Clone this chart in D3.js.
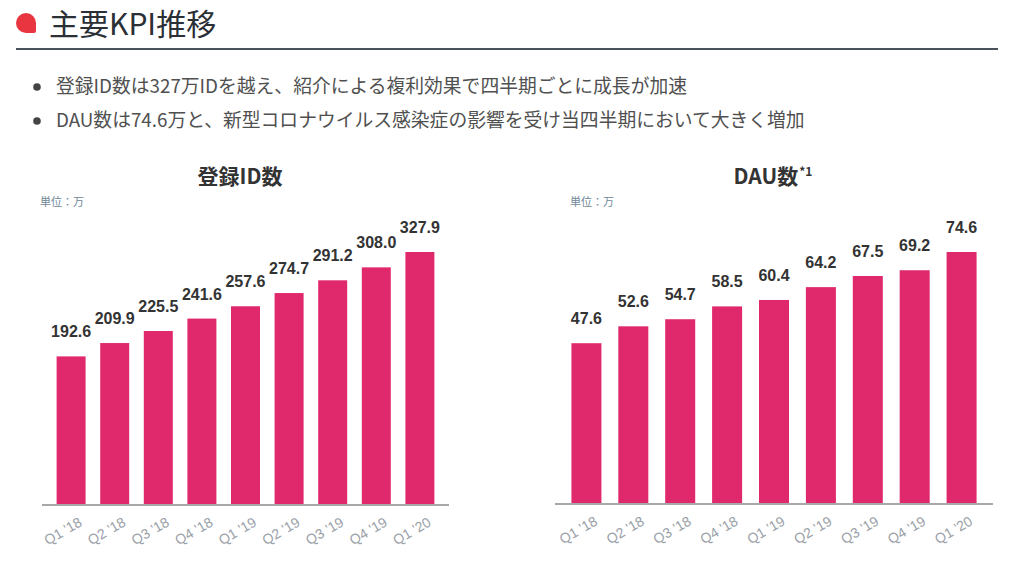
<!DOCTYPE html>
<html><head><meta charset="utf-8">
<script src="https://cdn.jsdelivr.net/npm/d3@7"></script>
<style>
html,body{margin:0;padding:0;background:#fff;}
svg{display:block;}
</style>
</head><body>
<svg id="c" width="1024" height="576"></svg>
<script>
const quarters = ["Q1 '18","Q2 '18","Q3 '18","Q4 '18","Q1 '19","Q2 '19","Q3 '19","Q4 '19","Q1 '20"];
const registeredIds = [192.6,209.9,225.5,241.6,257.6,274.7,291.2,308.0,327.9];
const dau = [47.6,52.6,54.7,58.5,60.4,64.2,67.5,69.2,74.6];
const pageTitle = "主要KPI推移";
const bullets = [
  "登録ID数は327万IDを越え、紹介による複利効果で四半期ごとに成長が加速",
  "DAU数は74.6万と、新型コロナウイルス感染症の影響を受け当四半期において大きく増加"
];
const unitLabel = "単位：万";

const svg = d3.select("#c");
const JP = "'Noto Sans CJK JP','Noto Sans',sans-serif";
const NUM = "'Liberation Sans',Arial,sans-serif";
const barColor = "#e0296d";

// header
svg.append("path")
  .attr("d","M16,23 A10,10 0 0 1 36,23 L36,31 Q36,33 34,33 L26,33 A10,10 0 0 1 16,23 Z")
  .attr("fill","#e8353f");
svg.append("text").attr("x",49).attr("y",35)
  .attr("font-family",JP).attr("font-size",30).attr("fill","#2b2f36")
  .text(pageTitle);
svg.append("line").attr("x1",16).attr("x2",998).attr("y1",49).attr("y2",49)
  .attr("stroke","#4a525b").attr("stroke-width",2);

bullets.forEach((b,i)=>{
  const y = 93 + i*34;
  svg.append("circle").attr("cx",37).attr("cy",y-6).attr("r",3.8).attr("fill","#444");
  svg.append("text").attr("x",56).attr("y",y)
    .attr("font-family",JP).attr("font-size",18.8).attr("fill","#505050").text(b);
});

function chart(opts){
  const g = svg.append("g");
  const x = d3.scaleBand().domain(quarters).range([opts.x0,opts.x1])
    .paddingInner(opts.pi).paddingOuter(opts.po);
  const y = d3.scaleLinear().domain([0,d3.max(opts.values)]).range([opts.base,opts.top]);

  // title
  const t = g.append("text").attr("x",opts.tx).attr("y",184)
    .attr("text-anchor","middle").attr("font-family",JP).attr("font-weight","bold")
    .attr("font-size",21).attr("fill","#333");
  t.append("tspan").text(opts.title);
  if(opts.sup){
    t.append("tspan").attr("font-size",12).attr("dy",-8).attr("dx",1).text(opts.sup);
  }
  g.append("text").attr("x",opts.ux).attr("y",206)
    .attr("font-family",JP).attr("font-size",11).attr("fill","#6f8799").text(unitLabel);

  g.selectAll("rect.bar").data(opts.values).join("rect").attr("class","bar")
    .attr("x",(d,i)=>x(quarters[i])).attr("width",x.bandwidth())
    .attr("y",d=>y(d)).attr("height",d=>opts.base-y(d)).attr("fill",barColor);

  g.selectAll("text.val").data(opts.values).join("text").attr("class","val")
    .attr("x",(d,i)=>x(quarters[i])+x.bandwidth()/2).attr("y",d=>y(d)-19)
    .attr("text-anchor","middle").attr("font-family",NUM).attr("font-weight","bold")
    .attr("font-size",16).attr("fill","#333").text(d=>d.toFixed(1));

  const ax = g.append("g").attr("transform",`translate(0,${opts.base})`)
    .call(d3.axisBottom(x).tickSize(0).tickSizeOuter(0));
  ax.select(".domain").attr("stroke","#a8a8a8").attr("stroke-width",2)
    .attr("d",`M${opts.x0},0H${opts.x1}`);
  ax.selectAll(".tick text")
    .attr("font-family",NUM).attr("font-size",14).attr("fill","#9aa1a8")
    .attr("text-anchor","end").attr("dy",0).attr("y",0)
    .attr("transform","translate(12,20) rotate(-30)");
}

chart({values:registeredIds,x0:42,x1:449,pi:0.335,po:0.335,base:505,top:252,
  title:"登録ID数",tx:240,ux:40});
chart({values:dau,x0:555,x1:993,pi:0.36,po:0.35,base:504,top:252,
  title:"DAU数",sup:"*1",tx:773,ux:570});
</script>
</body></html>
